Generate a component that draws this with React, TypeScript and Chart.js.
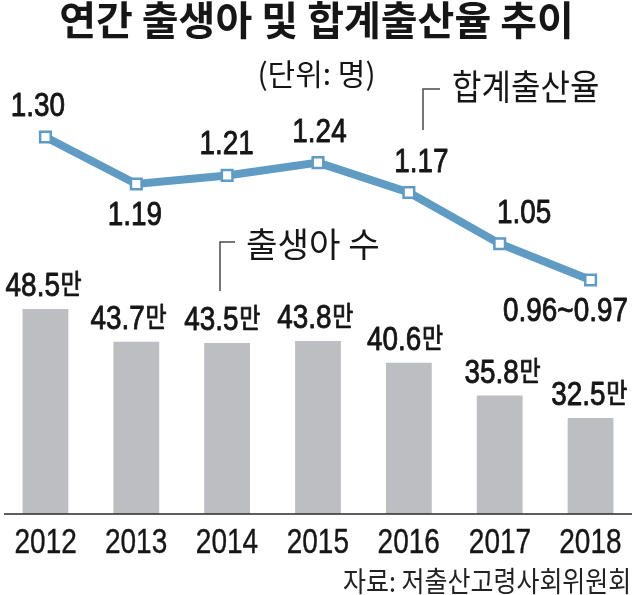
import React, { useEffect, useRef } from 'react';
import { Chart, registerables } from 'chart.js';

Chart.register(...registerables);

// ---- data ----
const YEARS = ['2012', '2013', '2014', '2015', '2016', '2017', '2018'];
const BIRTHS = [48.5, 43.7, 43.5, 43.8, 40.6, 35.8, 32.5]; // 만 명
const TFR = [1.3, 1.19, 1.21, 1.24, 1.17, 1.05, 0.965];
const TFR_LABELS = ['1.30', '1.19', '1.21', '1.24', '1.17', '1.05', '0.96~0.97'];
const BIRTH_UNIT = '만';
const TITLE = '연간 출생아 및 합계출산율 추이';
const UNIT_TEXT = '(단위: 명)';
const RATE_NAME = '합계출산율';
const BIRTH_NAME = '출생아 수';
const SOURCE = '자료: 저출산고령사회위원회';

// ---- layout of labels (not data) ----
const RATE_SIDE = ['above', 'below', 'above', 'above', 'above', 'above', 'below'];
const RATE_DX = [-7, -1, 0, 2, 13, 25, -25];
const BIRTH_DX = [-2, -8, -5, -3, -4, 3, -1];

// ---- styles ----
const BLUE = '#5f9bc3';
const GRAY = '#bdbec1';
const INK = '#161616';
const NUM_FAMILY = "'Liberation Sans', Arial, sans-serif";
const KOR_FAMILY = "'Noto Sans CJK KR', 'Noto Sans', sans-serif";

function fontStr(weight: string, size: number, family: string) {
  return `${weight} ${size}px ${family}`;
}

function ink(ctx: CanvasRenderingContext2D, text: string, font: string) {
  ctx.font = font;
  const m = ctx.measureText(text);
  return {
    l: m.actualBoundingBoxLeft,
    r: m.actualBoundingBoxRight,
    a: m.actualBoundingBoxAscent,
    d: m.actualBoundingBoxDescent,
  };
}

// draw text so its ink fills the given box
function fitText(
  ctx: CanvasRenderingContext2D,
  text: string,
  family: string,
  weight: string,
  x0: number,
  y0: number,
  x1: number,
  y1: number
) {
  const ref = ink(ctx, text, fontStr(weight, 100, family));
  const size = ((y1 - y0) / (ref.a + ref.d)) * 100;
  const f = fontStr(weight, size, family);
  const m = ink(ctx, text, f);
  const sx = (x1 - x0) / (m.l + m.r);
  ctx.save();
  ctx.font = f;
  ctx.textAlign = 'left';
  ctx.textBaseline = 'alphabetic';
  ctx.translate(x0, y0);
  ctx.scale(sx, 1);
  ctx.fillText(text, m.l, m.a);
  ctx.restore();
}

type Run = { text: string; font: string; sx: number };

function sizeFor(ctx: CanvasRenderingContext2D, sample: string, family: string, inkH: number) {
  const ref = ink(ctx, sample, fontStr('normal', 100, family));
  return (inkH / (ref.a + ref.d)) * 100;
}

function numStyle(ctx: CanvasRenderingContext2D) {
  const font = fontStr('normal', sizeFor(ctx, '0', NUM_FAMILY, 24), NUM_FAMILY);
  const w = ink(ctx, '1.30', font);
  const sx = 52 / (w.l + w.r);
  const kfont = fontStr('normal', sizeFor(ctx, BIRTH_UNIT, KOR_FAMILY, 25), KOR_FAMILY);
  const kw = ink(ctx, BIRTH_UNIT, kfont);
  const ksx = 19 / (kw.l + kw.r);
  const yfont = fontStr('normal', sizeFor(ctx, '0', NUM_FAMILY, 25), NUM_FAMILY);
  const yw = ink(ctx, '2016', yfont);
  const ysx = 61 / (yw.l + yw.r);
  return { font, sx, kfont, ksx, yfont, ysx };
}

// draw runs centred at cx with ink bottom at yBottom
function drawRuns(
  ctx: CanvasRenderingContext2D,
  runs: Run[],
  cx: number,
  yBottom: number,
  gap: number,
  bold: number
) {
  const ms = runs.map((r) => ink(ctx, r.text, r.font));
  const widths = ms.map((m, i) => (m.l + m.r) * runs[i].sx);
  const total = widths.reduce((a, b) => a + b, 0) + gap * (runs.length - 1);
  let x = cx - total / 2;
  runs.forEach((r, i) => {
    const m = ms[i];
    ctx.save();
    ctx.font = r.font;
    ctx.textAlign = 'left';
    ctx.textBaseline = 'alphabetic';
    ctx.translate(x, yBottom - m.d);
    ctx.scale(r.sx, 1);
    ctx.fillText(r.text, m.l, 0);
    if (bold > 0) {
      ctx.lineWidth = bold;
      ctx.lineJoin = 'round';
      ctx.strokeText(r.text, m.l, 0);
    }
    ctx.restore();
    x += widths[i] + gap;
  });
}

const annotPlugin = {
  id: 'annot',
  afterDraw(chart: any) {
    const ctx: CanvasRenderingContext2D = chart.ctx;
    const area = chart.chartArea;
    ctx.save();
    ctx.fillStyle = INK;
    ctx.strokeStyle = INK;

    // baseline
    ctx.strokeStyle = '#2a2a2a';
    ctx.lineWidth = 1.5;
    ctx.beginPath();
    ctx.moveTo(4, area.bottom);
    ctx.lineTo(632, area.bottom);
    ctx.stroke();
    ctx.strokeStyle = INK;

    const st = numStyle(ctx);

    // year labels (category ticks)
    const xs = chart.scales.x;
    YEARS.forEach((y, i) => {
      drawRuns(ctx, [{ text: y, font: st.yfont, sx: st.ysx }], xs.getPixelForTick(i), area.bottom + 39, 0, 0.4);
    });

    // bar labels
    const barMeta = chart.getDatasetMeta(1);
    barMeta.data.forEach((el: any, i: number) => {
      drawRuns(
        ctx,
        [
          { text: BIRTHS[i].toFixed(1), font: st.font, sx: st.sx },
          { text: BIRTH_UNIT, font: st.kfont, sx: st.ksx },
        ],
        el.x + BIRTH_DX[i],
        el.y - 13,
        3,
        0.9
      );
    });

    // rate labels
    const lineMeta = chart.getDatasetMeta(0);
    lineMeta.data.forEach((el: any, i: number) => {
      const above = RATE_SIDE[i] === 'above';
      const yBottom = above ? el.y - 21 : el.y + 17 + 24;
      drawRuns(ctx, [{ text: TFR_LABELS[i], font: st.font, sx: st.sx }], el.x + RATE_DX[i], yBottom, 0, 0.9);
    });

    // series names + brackets
    ctx.strokeStyle = '#4a4a4a';
    ctx.lineWidth = 1.5;
    ctx.beginPath();
    ctx.moveTo(440, 89);
    ctx.lineTo(423, 89);
    ctx.lineTo(423, 130);
    ctx.moveTo(235, 242);
    ctx.lineTo(220, 242);
    ctx.lineTo(220, 291);
    ctx.stroke();
    fitText(ctx, RATE_NAME, KOR_FAMILY, 'normal', 453, 70, 598, 103);
    fitText(ctx, BIRTH_NAME, KOR_FAMILY, 'normal', 247, 228, 378, 260);

    // source
    ctx.fillStyle = '#222';
    fitText(ctx, SOURCE, KOR_FAMILY, 'normal', 343, 567, 628, 593);
    ctx.restore();
  },
};

export default function App() {
  const ref = useRef<HTMLCanvasElement>(null);
  useEffect(() => {
    const chart = new Chart(ref.current as HTMLCanvasElement, {
      type: 'bar',
      data: {
        labels: YEARS,
        datasets: [
          {
            type: 'line',
            label: RATE_NAME,
            data: TFR,
            yAxisID: 'yRate',
            borderColor: BLUE,
            borderWidth: 8,
            pointStyle: 'rect',
            pointRadius: 7.5,
            pointBorderWidth: 2.5,
            pointBackgroundColor: '#ffffff',
            pointBorderColor: BLUE,
            tension: 0,
            order: 0,
          } as any,
          {
            type: 'bar',
            label: BIRTH_NAME,
            data: BIRTHS,
            yAxisID: 'yBirth',
            backgroundColor: GRAY,
            barPercentage: 0.504,
            categoryPercentage: 1,
            order: 1,
          } as any,
        ],
      },
      options: {
        responsive: true,
        maintainAspectRatio: false,
        animation: false,
        layout: { autoPadding: false, padding: { left: -3, right: 0, top: 0, bottom: 0 } },
        plugins: {
          legend: { display: false },
          tooltip: { enabled: false },
          title: {
            display: true,
            text: TITLE,
            color: INK,
            font: { family: KOR_FAMILY, size: 40, weight: 'bold', lineHeight: 1 },
            padding: { top: 0, bottom: 0 },
          },
          subtitle: {
            display: true,
            text: UNIT_TEXT,
            color: INK,
            font: { family: KOR_FAMILY, size: 30, weight: 'normal', lineHeight: 1 },
            padding: { top: 19, bottom: 0 },
          },
        },
        scales: {
          x: {
            offset: true,
            grid: { display: false, drawTicks: false },
            border: { display: false },
            ticks: { display: false },
            afterFit: (s: any) => {
              s.height = 81;
              s.paddingLeft = -3;
              s.paddingRight = 0;
            },
          },
          yBirth: { display: false, min: 18.41, max: 80.8 },
          yRate: { display: false, min: 0.4171, max: 1.4124 },
        },
      } as any,
      plugins: [annotPlugin],
    });
    return () => chart.destroy();
  }, []);
  return (
    <div style={{ position: 'fixed', left: 0, top: 0, width: 636, height: 595, background: '#ffffff' }}>
      <canvas ref={ref} />
    </div>
  );
}
